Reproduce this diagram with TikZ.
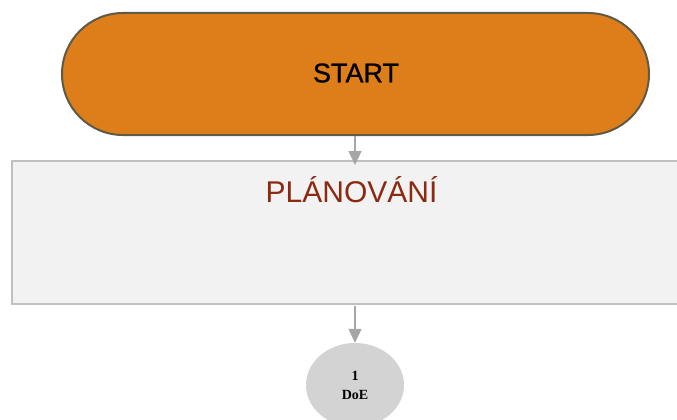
\documentclass[tikz,border=0pt]{standalone}
\usepackage{fontspec}
\setmainfont{Liberation Sans}
\usetikzlibrary{arrows.meta,shapes.geometric}
\definecolor{startfill}{HTML}{DE7E1A}
\definecolor{startline}{HTML}{5F5A45}
\definecolor{panelfill}{HTML}{F2F2F2}
\definecolor{panelline}{HTML}{C0C0C0}
\definecolor{paneltext}{HTML}{8B2A10}
\definecolor{flowgray}{HTML}{A6A6A6}
\definecolor{stepfill}{HTML}{D3D3D3}
\tikzset{
  x=1pt, y=-1pt,
  terminal/.style={draw=startline, line width=2pt, fill=startfill, rounded corners=61pt},
  panel/.style={draw=panelline, line width=2.4pt, fill=panelfill},
  flow/.style={draw=flowgray, line width=1.3pt, -{Triangle[width=13pt,length=14pt]}},
  stepnode/.style={ellipse, fill=stepfill, minimum width=98pt, minimum height=84pt, inner sep=0pt,
    font=\fontspec{Liberation Serif}\bfseries\fontsize{14}{19}\selectfont, align=center},
}
\begin{document}
\begin{tikzpicture}
\useasboundingbox (0,0) rectangle (677,420);
\clip (0,0) rectangle (677,420);
% START terminal
\draw[terminal] (62,13) rectangle (649,135);
\node[font=\fontsize{27}{31}\selectfont\addfontfeature{FakeBold=1}] (start) at (356,73) {START};
\coordinate (startb) at (355,136);
% planning panel
\draw[panel] (12,161) rectangle (720,304);
\node[text=paneltext, font=\fontsize{30}{35}\selectfont] (plan) at (351.5,190) {PLÁNOVÁNÍ};
\coordinate (plant) at (355,165);
\coordinate (planb) at (355,306);
% first step
\node[stepnode] (doe) at (355,385) {1\\DoE};
% connectors
\draw[flow] (startb) -- (plant);
\draw[flow] (planb) -- (doe.north);
\end{tikzpicture}
\end{document}
